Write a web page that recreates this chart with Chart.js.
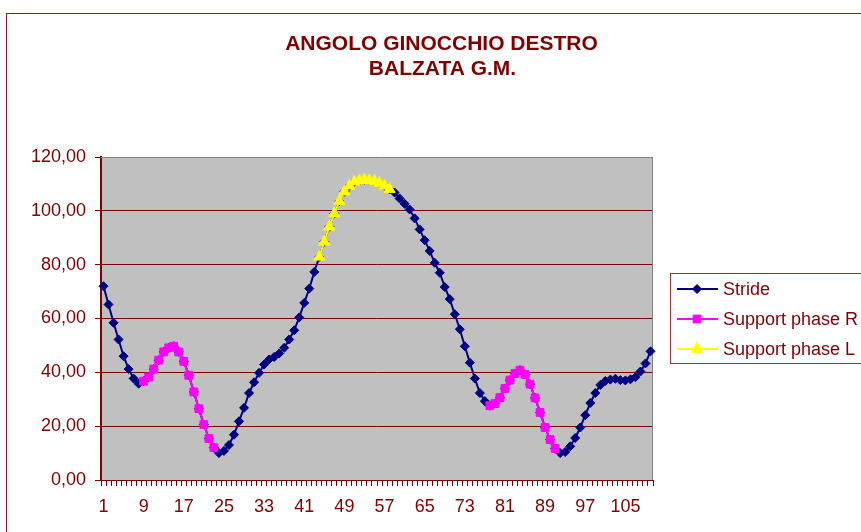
<!DOCTYPE html>
<html><head><meta charset="utf-8">
<script src="https://cdn.jsdelivr.net/npm/chart.js@4.4.1/dist/chart.umd.min.js"></script>
<style>
html,body{margin:0;padding:0;background:#fff;overflow:hidden;width:861px;height:532px}
#frame{position:absolute;left:6px;top:13px;width:1000px;height:1000px;border:solid #8b1c1c;border-width:1px 0 0 1px}
#wrap{position:absolute;left:0;top:0;width:880px;height:532px}
</style></head><body>
<div id="frame"></div>
<div id="wrap"><canvas id="c"></canvas></div>
<script>
'use strict';
const TITLE=['ANGOLO GINOCCHIO DESTRO','BALZATA G.M.'];
const cats=Array.from({length:110},(_,i)=>String(i+1));
const xTicks=['1','9','17','25','33','41','49','57','65','73','81','89','97','105'];
const yTicks=[0,20,40,60,80,100,120];
const stride=[
 72.0,65.2,58.4,52.2,46.0,41.2,37.7,35.8,36.7,38.3,
 41.2,44.5,47.6,49.1,49.7,47.6,44.1,38.9,32.7,26.5,
 20.6,15.4,12.0,10.0,10.8,13.0,16.8,21.8,26.8,32.3,
 36.3,39.8,42.9,44.8,45.7,47.0,49.1,52.2,55.6,60.4,
 65.8,71.1,77.3,82.9,88.5,94.1,99.0,103.6,107.1,109.3,
 110.8,111.3,111.5,111.3,111.0,110.3,109.3,108.0,106.8,104.6,
 102.6,100.5,97.2,93.1,89.1,85.1,80.7,77.0,71.7,67.2,
 61.6,56.0,49.7,43.6,37.7,32.3,29.3,27.6,28.4,30.6,
 34.0,37.1,39.6,40.8,39.2,35.6,30.5,25.1,19.5,15.0,
 11.7,10.0,10.4,12.5,15.6,19.5,24.1,28.6,32.3,35.3,
 36.8,37.3,37.6,37.1,37.0,37.4,38.2,40.3,43.3,47.8];
// fasi di appoggio: intervalli di frame (1-based) della stessa curva
const suppR=[[9,23],[78,91]];
const suppL=[[44,58]];
const RED='#800000', FONT="'Liberation Sans', Arial, sans-serif";

const mask=rs=>stride.map((v,i)=>rs.some(([a,b])=>i+1>=a&&i+1<=b)?v:null);
const ds=[
 {label:'Stride',data:stride,borderColor:'#000080',backgroundColor:'#000080',pointStyle:'rectRot',pointRadius:4.5,order:3},
 {label:'Support phase R',data:mask(suppR),borderColor:'#ff00ff',backgroundColor:'#ff00ff',pointStyle:'rect',pointRadius:5.5,order:2},
 {label:'Support phase L',data:mask(suppL),borderColor:'#ffff00',backgroundColor:'#ffff00',pointStyle:'triangle',pointRadius:6.5,order:1}
].map(d=>Object.assign(d,{borderWidth:2,pointBorderWidth:1,pointBorderColor:d.borderColor,tension:0,spanGaps:false}));

const deco={id:'deco',
 beforeDraw(c){ const a=c.chartArea, x=c.ctx; x.save(); x.fillStyle='#c0c0c0'; x.fillRect(a.left,a.top,a.right-a.left,a.bottom-a.top); x.restore(); },
 beforeDatasetsDraw(c){ const a=c.chartArea, x=c.ctx; x.save(); x.strokeStyle='#808080'; x.lineWidth=1;
   x.beginPath(); x.moveTo(a.left,a.top+.5); x.lineTo(a.right-.5,a.top+.5); x.lineTo(a.right-.5,a.bottom); x.stroke(); x.restore(); },
 afterDraw(c){
  const a=c.chartArea, x=c.ctx; x.save();
  // titolo
  x.fillStyle=RED; x.font='bold 21px '+FONT; x.textAlign='center'; x.textBaseline='alphabetic';
  x.fillText(TITLE[0],441.5,50); x.fillText(TITLE[1],442.5,75);
  // legenda
  const lx=a.right+17, ly=a.top+116;
  x.strokeStyle='#993333'; x.lineWidth=1; x.strokeRect(lx+.5,ly+.5,c.width,90);
  x.font='18px '+FONT; x.textAlign='left'; x.textBaseline='middle';
  c.data.datasets.forEach((d,i)=>{
   const y=ly+16+i*30;
   x.strokeStyle=d.borderColor; x.fillStyle=d.backgroundColor; x.lineWidth=2;
   x.beginPath(); x.moveTo(lx+7,y); x.lineTo(lx+48,y); x.stroke();
   x.lineWidth=1;
   Chart.helpers.drawPoint(x,{pointStyle:d.pointStyle,radius:d.pointRadius,rotation:0,borderWidth:1},lx+27,y);
   x.fillStyle=RED; x.fillText(d.label,lx+53,y+1);
  });
  x.restore();
 }};

new Chart(document.getElementById('c'),{type:'line',data:{labels:cats,datasets:ds},plugins:[deco],
 options:{responsive:true,maintainAspectRatio:false,animation:false,devicePixelRatio:1,
  layout:{padding:{left:0,top:157,right:227,bottom:0}},
  plugins:{legend:{display:false},tooltip:{enabled:false},title:{display:false}},
  scales:{
   x:{type:'category',offset:true,
      grid:{offset:true,drawOnChartArea:false,color:RED,tickLength:6,tickWidth:1},
      border:{color:RED,width:1},
      ticks:{autoSkip:false,maxRotation:0,minRotation:0,padding:10,color:RED,font:{family:FONT,size:18},
        callback:(v,i)=>xTicks.includes(cats[i])?cats[i]:''},
      afterFit:s=>{s.height=52;}},
   y:{min:0,max:120,
      grid:{color:RED,tickLength:6},
      border:{color:RED,width:2},
      ticks:{padding:9,color:RED,font:{family:FONT,size:18},callback:v=>v.toFixed(2).replace('.',',')},
      afterBuildTicks:s=>{s.ticks=yTicks.map(v=>({value:v}));},
      afterFit:s=>{s.width=101;}}
  }}});
</script></body></html>
